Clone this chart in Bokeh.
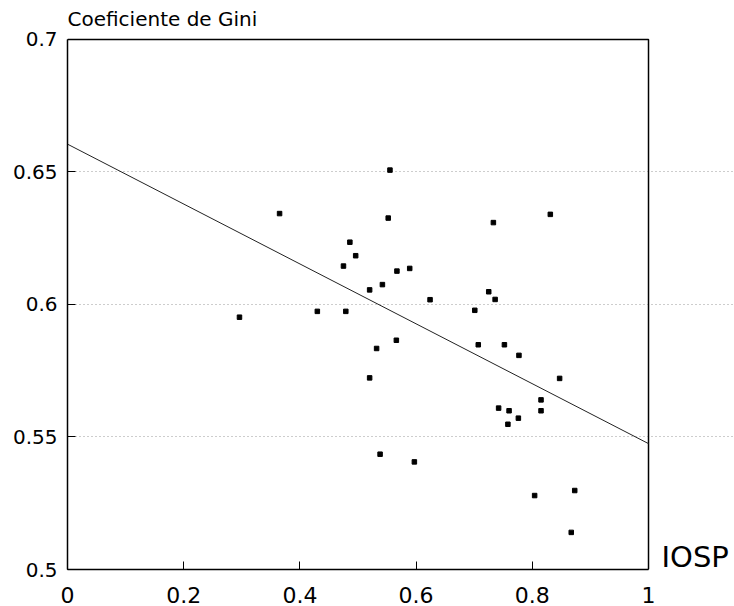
from bokeh.plotting import figure
from bokeh.models import Range1d, FixedTicker, CustomJSTickFormatter, Label
from bokeh.embed import file_html
from bokeh.resources import INLINE

# IOSP (x) and Gini coefficient (y)
iosp = [0.296, 0.365, 0.430, 0.479, 0.475, 0.486, 0.496, 0.520, 0.542, 0.532,
        0.520, 0.538, 0.555, 0.552, 0.567, 0.589, 0.566, 0.597, 0.624, 0.701,
        0.707, 0.725, 0.733, 0.736, 0.742, 0.752, 0.760, 0.758, 0.776, 0.777,
        0.804, 0.815, 0.815, 0.831, 0.847, 0.867, 0.873]
gini = [0.5952, 0.6343, 0.5974, 0.5974, 0.6145, 0.6235, 0.6184, 0.6055, 0.6075, 0.5834,
        0.5723, 0.5435, 0.6507, 0.6326, 0.6126, 0.6136, 0.5865, 0.5406, 0.6018, 0.5978,
        0.5848, 0.6048, 0.6309, 0.6019, 0.5609, 0.5848, 0.5599, 0.5548, 0.5571, 0.5808,
        0.5279, 0.5640, 0.5599, 0.6340, 0.5721, 0.5140, 0.5298]

# fitted regression line
fit_intercept = 0.6605
fit_slope = -0.1130

x_ticks = [0, 0.2, 0.4, 0.6, 0.8, 1.0]
y_ticks = [0.5, 0.55, 0.6, 0.65, 0.7]

FONT = "DejaVu Sans"
x_lo, x_hi = x_ticks[0], x_ticks[-1]
y_lo, y_hi = y_ticks[0], y_ticks[-1]

# frame is extended to the right and top so the outside texts can be placed
p = figure(width=734, height=606, output_backend="svg", toolbar_location=None,
           x_range=Range1d(x_lo, 1.148), y_range=Range1d(y_lo, 0.7147),
           min_border_left=67, min_border_right=0, min_border_top=0, min_border_bottom=37)
p.background_fill_color = "white"
p.border_fill_color = "white"
p.outline_line_color = None

fmt = CustomJSTickFormatter(code="return String(+tick.toFixed(2));")
for ax, ticks, fs in ((p.xaxis[0], x_ticks, "22px"), (p.yaxis[0], y_ticks, "20px")):
    ax.ticker = FixedTicker(ticks=ticks)
    ax.formatter = fmt
    ax.major_label_text_font = FONT
    ax.major_label_text_font_size = fs
    ax.major_label_text_color = "black"
    ax.axis_line_color = "black"
    ax.axis_line_width = 1.5
    ax.major_tick_in = 8
    ax.major_tick_out = 0
    ax.major_tick_line_color = "black"
    ax.minor_tick_line_color = None
p.xaxis.bounds = (x_lo, x_hi)
p.yaxis.bounds = (y_lo, y_hi)
p.xaxis.major_label_standoff = 17
p.yaxis.major_label_standoff = 10

p.xgrid.grid_line_color = None
p.ygrid.ticker = FixedTicker(ticks=y_ticks[1:-1])
p.ygrid.bounds = (x_lo, x_hi)
p.ygrid.grid_line_color = "#9a9a9a"
p.ygrid.grid_line_dash = "1 3"
p.ygrid.grid_line_width = 1

# top and right sides of the plot box
p.line([x_lo, x_hi, x_hi], [y_hi, y_hi, y_lo], line_color="black", line_width=1.5)

fit_x = [x_lo, x_hi]
fit_y = [fit_intercept + fit_slope * xv for xv in fit_x]
p.line(fit_x, fit_y, line_color="#222222", line_width=1)
p.scatter(iosp, gini, marker="square", size=4.5, fill_color="black", line_color="black")

p.add_layout(Label(x=x_lo, y=y_hi, x_offset=0, y_offset=20, text="Coeficiente de Gini",
                   text_font=FONT, text_font_size="20px", text_color="black",
                   text_baseline="middle"))
p.add_layout(Label(x=x_hi, y=y_lo, x_offset=13, y_offset=13, text="IOSP",
                   text_font=FONT, text_font_size="29px", text_color="black",
                   text_baseline="middle"))

open("out.html", "w").write(file_html(p, INLINE))
